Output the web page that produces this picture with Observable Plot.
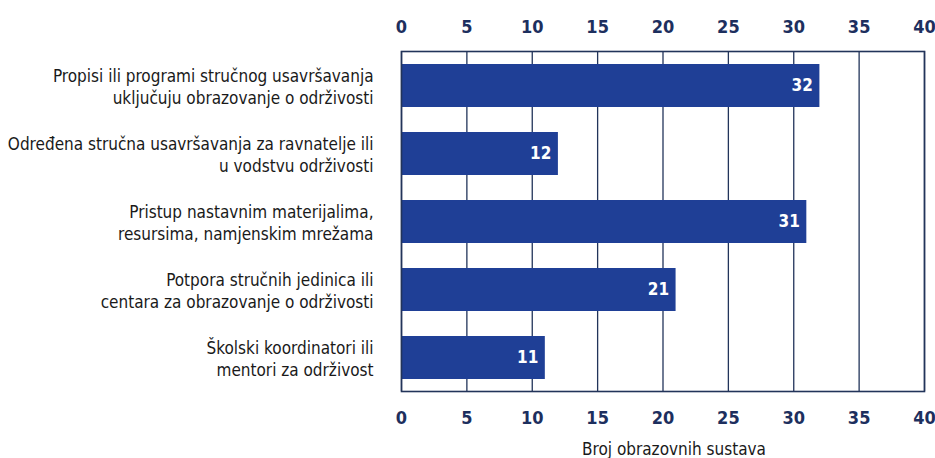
<!DOCTYPE html>
<html>
<head>
<meta charset="utf-8">
<script src="https://cdn.jsdelivr.net/npm/d3@7"></script>
<script src="https://cdn.jsdelivr.net/npm/@observablehq/plot@0.6"></script>
<style>
  html, body { margin: 0; padding: 0; background: #ffffff; }
</style>
</head>
<body>
<div id="chart"></div>
<script>
const categories = [
  "Propisi ili programi stručnog usavršavanja\nuključuju obrazovanje o održivosti",
  "Određena stručna usavršavanja za ravnatelje ili\nu vodstvu održivosti",
  "Pristup nastavnim materijalima,\nresursima, namjenskim mrežama",
  "Potpora stručnih jedinica ili\ncentara za obrazovanje o održivosti",
  "Školski koordinatori ili\nmentori za održivost"
];
const values = [32, 12, 31, 21, 11];
const xTicks = [0, 5, 10, 15, 20, 25, 30, 35, 40];
const xLabel = "Broj obrazovnih sustava";

const data = categories.map((c, i) => ({ category: c, value: values[i] }));

const navy = "#22345a";
const tickColor = "#1d2f5e";
const barColor = "#1f3f96";
const labelFont = "'DejaVu Sans Condensed', 'Liberation Sans', sans-serif";
const tickFont = "'DejaVu Sans Condensed', 'Liberation Sans', sans-serif";

const chart = Plot.plot({
  width: 935,
  height: 458,
  marginLeft: 401,
  marginRight: 11,
  marginTop: 51,
  marginBottom: 67,
  style: { background: "#ffffff", fontFamily: labelFont },
  x: { domain: [0, 40], ticks: xTicks, label: null, axis: null },
  y: { domain: categories, paddingInner: 0.37, paddingOuter: 0.18, axis: null },
  marks: [
    Plot.gridX(xTicks, { stroke: navy, strokeOpacity: 1, strokeWidth: 1.3 }),
    Plot.barX(data, { x: "value", y: "category", fill: barColor }),
    Plot.frame({ stroke: navy, strokeWidth: 1.6 }),
    Plot.axisX(xTicks, {
      anchor: "top", tickSize: 0, tickPadding: 19, label: null,
      fontSize: 18, fontWeight: "bold", fontFamily: tickFont, fill: tickColor
    }),
    Plot.axisX(xTicks, {
      anchor: "bottom", tickSize: 0, tickPadding: 20, label: null,
      fontSize: 18, fontWeight: "bold", fontFamily: tickFont, fill: tickColor
    }),
    Plot.text(data, {
      x: "value", y: "category", text: d => String(d.value),
      textAnchor: "end", dx: -7, fill: "#ffffff",
      fontSize: 17, fontWeight: "bold", fontFamily: tickFont
    }),
    Plot.text(data, {
      y: "category", frameAnchor: "left", text: "category",
      textAnchor: "end", dx: -28, lineHeight: 1.3,
      fontSize: 17, fill: "#1a1a1a", fontFamily: labelFont
    }),
    Plot.text([xLabel], {
      frameAnchor: "bottom", text: d => d, dx: 11, dy: 63,
      fontSize: 17, fill: "#1a1a1a", fontFamily: labelFont
    })
  ]
});

document.getElementById("chart").appendChild(chart);
</script>
</body>
</html>
